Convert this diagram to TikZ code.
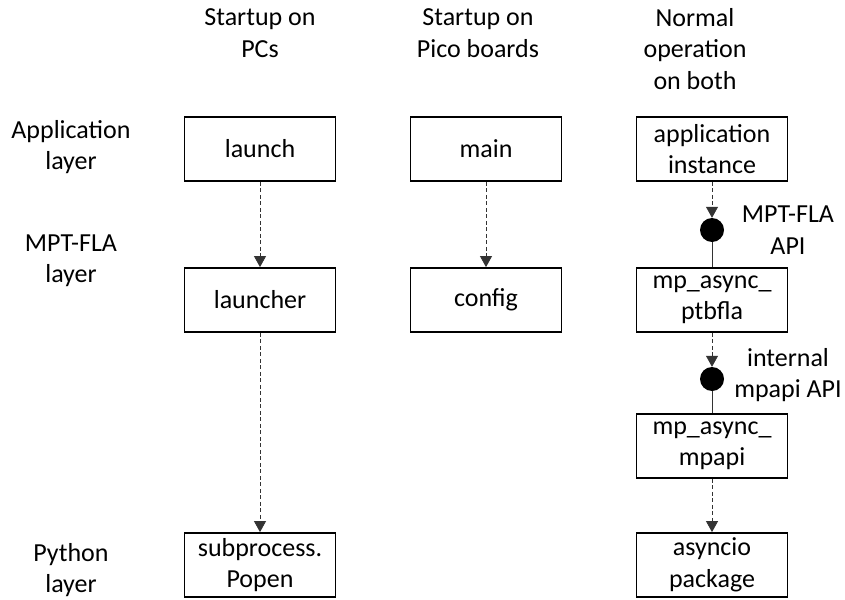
\documentclass[tikz,border=0pt]{standalone}
\usepackage{fontspec}
\setmainfont{Carlito}
\usepackage{tikz}
\usetikzlibrary{positioning}
\usetikzlibrary{arrows.meta}
\tikzstyle{arrow}= [black!80, line width=0.8pt, dash pattern=on 4pt off 2.5pt, -{Triangle[length=11pt,width=12pt]}]
\tikzstyle{plainline}= [black!80, line width=0.9pt]

\begin{document}
\begin{tikzpicture}[
    x=1pt, y=-1pt,
    every node/.style={font=\fontsize{26}{31.5}\selectfont},
    block/.style={
    draw, line width=1.8pt, align=center, inner sep=0pt,
    minimum width=151pt, minimum height=64pt,
    },
    caption/.style={align=center},
    ball/.style={circle, fill, minimum size=24pt, inner sep=0pt}
  ]
  \useasboundingbox (0,0) rectangle (845,599);

  % column heads and layer names
  \node[caption] (hpc) at (260,33) {Startup on\\PCs};
  \node[caption] (hpico) at (478,33) {Startup on\\Pico boards};
  \node[caption] (hboth) at (695,49) {Normal\\operation\\on both};
  \node[caption] (lapp) at (71,147) {Application\\layer};
  \node[caption] (lfla) at (71,261) {MPT-FLA\\layer};
  \node[caption] (lpy) at (71,570) {Python\\layer};

  % boxes
  \node[block] (launch) at (260,149) {launch};
  \node[block,right of=launch,node distance=226pt] (main) {main};
  \node[block,right of=main,node distance=226pt] (app) {application\\instance};
  \node[block,below of=launch,node distance=151pt] (launcher) {launcher};
  \node[block,below of=main,node distance=151pt] (config) {config};
  \node[block,below of=app,node distance=151pt] (ptbfla) {mp\_async\_\\ptbfla};
  \node[block,below of=ptbfla,node distance=146pt] (mpapi) {mp\_async\_\\mpapi};
  \node[block,below of=mpapi,node distance=119pt] (asyncio) {asyncio\\package};
  \node[block,below of=launcher,node distance=265pt] (popen) {subprocess.\\Popen};

  % interfaces
  \node[ball] (apifla) at (712,230) {};
  \node[ball] (apimp) at (712,379) {};
  \node[caption] (tfla) at (788,230) {MPT-FLA\\API};
  \node[caption] (tmp) at (788,375) {internal\\mpapi API};

  \draw[arrow] (launch) -- (launcher);
  \draw[arrow] (launcher) -- (popen);
  \draw[arrow] (main) -- (config);
  \draw[arrow] (app) -- (apifla);
  \draw[plainline] (apifla) -- (ptbfla);
  \draw[arrow] (ptbfla) -- (apimp);
  \draw[plainline] (apimp) -- (mpapi);
  \draw[arrow] (mpapi) -- (asyncio);

\end{tikzpicture}
\end{document}
